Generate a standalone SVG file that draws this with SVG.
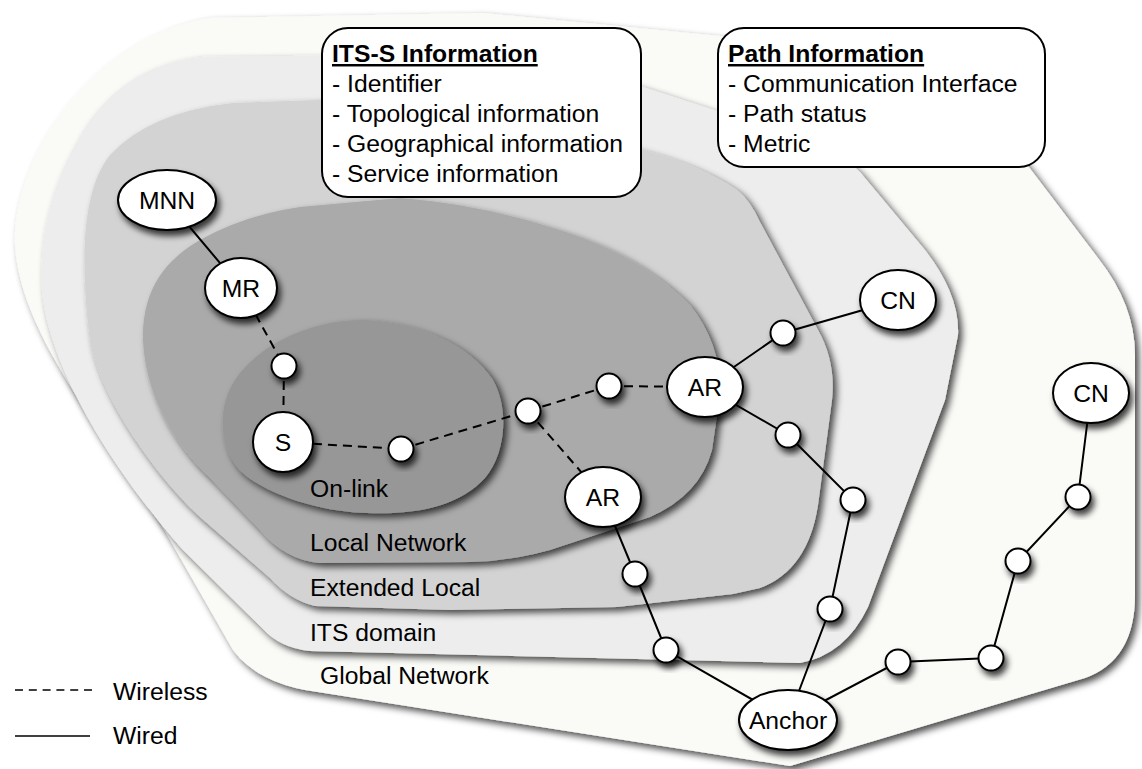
<svg xmlns="http://www.w3.org/2000/svg" width="1142" height="769" viewBox="0 0 1142 769">
<defs>
<filter id="lsh" x="-10%" y="-10%" width="125%" height="125%">
<feDropShadow dx="4" dy="4" stdDeviation="3.5" flood-color="#000" flood-opacity="0.7"/>
</filter>
<filter id="nsh" x="-30%" y="-30%" width="170%" height="170%">
<feDropShadow dx="3" dy="5" stdDeviation="3" flood-color="#000" flood-opacity="0.75"/>
</filter>
<style>
.t{font-family:"Liberation Sans",Arial,Helvetica,sans-serif;font-size:24.7px;fill:#000}
.c{text-anchor:middle}
.b{font-weight:bold;text-decoration:underline}
.n{fill:#fff;stroke:#000;stroke-width:2;filter:url(#nsh)}
.w{fill:none;stroke:#000;stroke-width:2}
.d{fill:none;stroke:#000;stroke-width:2;stroke-dasharray:9 6}
.box{fill:#fff;stroke:#000;stroke-width:2}
.layer{filter:url(#lsh)}
</style>
</defs>
<rect width="1142" height="769" fill="#fff"/>
<g id="layers">
<path id="global" class="layer" fill="#fafaf7" d="M210,18 L483,13 L720,36 L905,40 Q935,42 952,66 L1098,258 Q1135,305 1135,355 L1135,595 Q1135,660 1085,678 L790,766 L305,690 Q255,680 233,650 L150,505 C95,420 20,330 15,245 C12,160 90,38 210,18 Z"/>
<path id="its" class="layer" fill="#ededed" d="M200,57 L400,55 L640,86 L720,112 L800,136 Q835,148 860,172 L925,250 Q960,295 958,335 L945,400 L868,607 Q845,655 800,663 L310,651 Q280,648 262,628 L183,550 C130,490 50,380 42,290 C38,220 60,165 90,120 Q130,65 200,57 Z"/>
<path id="extended" class="layer" fill="#d3d3d3" d="M233,103 L320,100 L480,112 L643,150 Q700,165 737,190 Q750,200 760,222 L818,330 Q836,362 832,400 L818,505 Q808,570 760,588 L733,594 L617,607 L450,610 L315,606 Q290,600 270,578 L200,517 C160,480 100,400 90,340 C80,260 82,190 110,155 Q150,112 233,103 Z"/>
<path id="local" class="layer" fill="#aaaaaa" d="M300,207 L400,198 Q480,204 560,230 Q640,255 690,305 Q722,345 720,395 L712,450 Q700,495 650,517 L550,550 Q510,561 470,562 L320,563 Q285,560 260,530 L210,478 C170,440 145,390 143,340 C142,290 165,260 200,240 Q245,215 300,207 Z"/>
<path id="onlink" class="layer" fill="#979797" d="M363,320 C420,322 470,345 493,380 C510,410 505,455 485,478 C460,505 420,515 367,513 C320,512 270,495 245,475 C220,455 215,410 235,380 C258,345 310,320 363,320 Z"/>
</g>
<g id="layer-labels">
<text class="t" x="310" y="497">On-link</text>
<text class="t" x="310" y="551">Local Network</text>
<text class="t" x="310" y="596">Extended Local</text>
<text class="t" x="310" y="641">ITS domain</text>
<text class="t" x="320" y="684">Global Network</text>
</g>
<g id="connectors">
<line class="w" x1="167" y1="200" x2="241" y2="288"/>
<line class="d" x1="241" y1="288" x2="284" y2="366"/>
<line class="d" x1="284" y1="366" x2="283" y2="442"/>
<line class="d" x1="283" y1="442" x2="401" y2="449"/>
<line class="d" x1="401" y1="449" x2="528" y2="411"/>
<line class="d" x1="528" y1="411" x2="609" y2="386"/>
<line class="d" x1="609" y1="386" x2="705" y2="387"/>
<line class="d" x1="528" y1="411" x2="603" y2="497"/>
<polyline class="w" points="705,387 783,333 898,300"/>
<polyline class="w" points="705,387 788,435 853,500 830,609 788,720"/>
<polyline class="w" points="603,497 635,574 666,650 788,720"/>
<polyline class="w" points="788,720 898,662 991,658 1018,561 1078,497 1091,393"/>
</g>
<g id="node-MNN"><ellipse class="n" cx="167" cy="200" rx="49" ry="30"/><text class="t c" x="167" y="209">MNN</text></g>
<g id="node-MR"><ellipse class="n" cx="241" cy="288" rx="36" ry="30"/><text class="t c" x="241" y="297">MR</text></g>
<g id="node-n1"><circle class="n" cx="284" cy="366" r="12.5"/></g>
<g id="node-S"><circle class="n" cx="283" cy="442" r="30"/><text class="t c" x="283" y="451">S</text></g>
<g id="node-n2"><circle class="n" cx="401" cy="449" r="12.5"/></g>
<g id="node-n3"><circle class="n" cx="528" cy="411" r="12.5"/></g>
<g id="node-n4"><circle class="n" cx="609" cy="386" r="12.5"/></g>
<g id="node-AR1"><ellipse class="n" cx="705" cy="387" rx="38" ry="30"/><text class="t c" x="705" y="396">AR</text></g>
<g id="node-AR2"><ellipse class="n" cx="603" cy="497" rx="38" ry="30"/><text class="t c" x="603" y="506">AR</text></g>
<g id="node-w1"><circle class="n" cx="783" cy="333" r="12.5"/></g>
<g id="node-CN1"><ellipse class="n" cx="898" cy="300" rx="38" ry="30"/><text class="t c" x="898" y="309">CN</text></g>
<g id="node-w2"><circle class="n" cx="788" cy="435" r="12.5"/></g>
<g id="node-w3"><circle class="n" cx="853" cy="500" r="12.5"/></g>
<g id="node-w4"><circle class="n" cx="830" cy="609" r="12.5"/></g>
<g id="node-w5"><circle class="n" cx="635" cy="574" r="12.5"/></g>
<g id="node-w6"><circle class="n" cx="666" cy="650" r="12.5"/></g>
<g id="node-Anchor"><ellipse class="n" cx="788" cy="720" rx="49" ry="30"/><text class="t c" x="788" y="729">Anchor</text></g>
<g id="node-w7"><circle class="n" cx="898" cy="662" r="12.5"/></g>
<g id="node-w8"><circle class="n" cx="991" cy="658" r="12.5"/></g>
<g id="node-w9"><circle class="n" cx="1018" cy="561" r="12.5"/></g>
<g id="node-w10"><circle class="n" cx="1078" cy="497" r="12.5"/></g>
<g id="node-CN2"><ellipse class="n" cx="1091" cy="393" rx="38" ry="30"/><text class="t c" x="1091" y="402">CN</text></g>
<g id="box-its-s">
<rect class="box" x="322" y="28" width="319" height="169" rx="26"/>
<text class="t b" x="332" y="62">ITS-S Information</text>
<text class="t" x="332" y="92">- Identifier</text>
<text class="t" x="332" y="122">- Topological information</text>
<text class="t" x="332" y="152">- Geographical information</text>
<text class="t" x="332" y="182">- Service information</text>
</g>
<g id="box-path">
<rect class="box" x="718" y="28" width="327" height="139" rx="26"/>
<text class="t b" x="728" y="62">Path Information</text>
<text class="t" x="728" y="92">- Communication Interface</text>
<text class="t" x="728" y="122">- Path status</text>
<text class="t" x="728" y="152">- Metric</text>
</g>
<g id="legend">
<line x1="15" y1="690" x2="92" y2="690" stroke="#000" stroke-width="1.5" stroke-dasharray="8 5.8"/>
<text class="t" x="113" y="700">Wireless</text>
<line x1="15" y1="736" x2="90" y2="736" stroke="#000" stroke-width="1.5"/>
<text class="t" x="113" y="744">Wired</text>
</g>
</svg>
